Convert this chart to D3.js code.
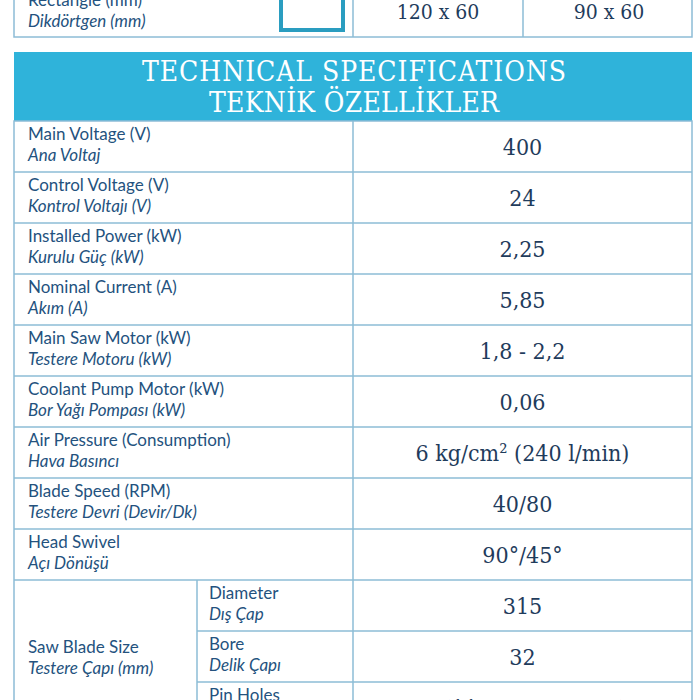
<!DOCTYPE html>
<html><head><meta charset="utf-8">
<script src="https://cdn.jsdelivr.net/npm/d3@7"></script>
<style>body{margin:0;background:#fff}</style>
</head><body><svg id="c" width="700" height="700"></svg>
<script>
// rows of the spec table
var labelsEn = ["Main Voltage (V)", "Control Voltage (V)", "Installed Power (kW)", "Nominal Current (A)",
    "Main Saw Motor (kW)", "Coolant Pump Motor (kW)", "Air Pressure (Consumption)", "Blade Speed (RPM)", "Head Swivel"];
var labelsTr = ["Ana Voltaj", "Kontrol Voltajı (V)", "Kurulu Güç (kW)", "Akım (A)",
    "Testere Motoru (kW)", "Bor Yağı Pompası (kW)", "Hava Basıncı", "Testere Devri (Devir/Dk)", "Açı Dönüşü"];
var values = ["400", "24", "2,25", "5,85", "1,8 - 2,2", "0,06", "6 kg/cm²  (240 l/min)", "40/80", "90°/45°"];
var bladeEn = ["Diameter", "Bore", "Pin Holes"];
var bladeTr = ["Dış Çap", "Delik Çapı", "Pim Delikleri"];
var bladeValues = ["315", "32", "2 x Ø11 / Pim Arası Ø63"];
var topRow = ["Rectangle (mm)", "Dikdörtgen (mm)", "120 x 60", "90 x 60"];

var svg = d3.select("#c");
var border = "#8dbcd6", labelC = "#24527e", valC = "#1f3c5c", blue = "#2fb3da";
var serif = "DejaVu Serif Condensed, DejaVu Serif";
var x0 = 14, x1 = 692, xs = 197, xv = 353;

var y = d3.scaleLinear().domain([0, 1]).range([121, 172]); // one row per unit

// top partial table
svg.append("rect").attr("x", x0).attr("y", -10).attr("width", x1 - x0).attr("height", 47)
    .attr("fill", "#fff").attr("stroke", border).attr("stroke-width", 1.5);
svg.append("rect").attr("x", 281).attr("y", -10).attr("width", 62).attr("height", 40)
    .attr("fill", "#fff").attr("stroke", "#2a9dc0").attr("stroke-width", 4);
[xv, 523].forEach(function(x) {
    svg.append("line").attr("x1", x).attr("x2", x).attr("y1", -10).attr("y2", 37).attr("stroke", border).attr("stroke-width", 1.5);
});
svg.append("text").attr("x", 28).attr("y", 6).text(topRow[0]).attr("fill", labelC).attr("font-family", "Lato").attr("font-size", 17);
svg.append("text").attr("x", 28).attr("y", 27).text(topRow[1]).attr("fill", labelC).attr("font-family", "Lato").attr("font-style", "italic").attr("font-size", 17);
svg.append("text").attr("x", 438).attr("y", 19).text(topRow[2]).attr("text-anchor", "middle").attr("fill", valC).attr("font-family", serif).attr("font-size", 21);
svg.append("text").attr("x", 609).attr("y", 19).text(topRow[3]).attr("text-anchor", "middle").attr("fill", valC).attr("font-family", serif).attr("font-size", 21);

// header
svg.append("rect").attr("x", x0).attr("y", 52).attr("width", x1 - x0).attr("height", 69).attr("fill", blue);
svg.append("text").attr("x", 354).attr("y", 81).text("TECHNICAL SPECIFICATIONS").attr("text-anchor", "middle")
    .attr("fill", "#fff").attr("font-family", serif).attr("font-size", 28).attr("textLength", 424);
svg.append("text").attr("x", 354).attr("y", 112).text("TEKNİK ÖZELLİKLER").attr("text-anchor", "middle")
    .attr("fill", "#fff").attr("font-family", serif).attr("font-size", 28).attr("textLength", 290);

var g = svg.append("g");
var nAll = values.length + bladeValues.length;
g.append("rect").attr("x", x0).attr("y", y(0)).attr("width", x1 - x0).attr("height", y(nAll) - y(0))
    .attr("fill", "none").attr("stroke", border).attr("stroke-width", 1.5);
g.append("line").attr("x1", xv).attr("x2", xv).attr("y1", y(0)).attr("y2", y(nAll)).attr("stroke", border).attr("stroke-width", 1.5);
g.append("line").attr("x1", xs).attr("x2", xs).attr("y1", y(values.length)).attr("y2", y(nAll)).attr("stroke", border).attr("stroke-width", 1.5);

function addLabel(x, i, en, tr) {
    g.append("text").attr("x", x).attr("y", y(i) + 19).text(en).attr("fill", labelC).attr("font-family", "Lato").attr("font-size", 17);
    g.append("text").attr("x", x).attr("y", y(i) + 40).text(tr).attr("fill", labelC).attr("font-family", "Lato").attr("font-style", "italic").attr("font-size", 17);
}
function addValue(i, v) {
    g.append("text").attr("x", (xv + x1) / 2).attr("y", y(i + 0.5) + 8).text(v).attr("text-anchor", "middle")
        .attr("fill", valC).attr("font-family", serif).attr("font-size", 23);
}
values.forEach(function(v, i) {
    if (i > 0) g.append("line").attr("x1", x0).attr("x2", x1).attr("y1", y(i)).attr("y2", y(i)).attr("stroke", border).attr("stroke-width", 1.5);
    addLabel(28, i, labelsEn[i], labelsTr[i]);
    addValue(i, values[i]);
});
bladeValues.forEach(function(v, j) {
    var i = values.length + j;
    g.append("line").attr("x1", j == 0 ? x0 : xs).attr("x2", x1).attr("y1", y(i)).attr("y2", y(i)).attr("stroke", border).attr("stroke-width", 1.5);
    addLabel(209, i, bladeEn[j], bladeTr[j]);
    addValue(i, v);
});
addLabel(28, values.length + 1.05, "Saw Blade Size", "Testere Çapı (mm)");
</script></body></html>
